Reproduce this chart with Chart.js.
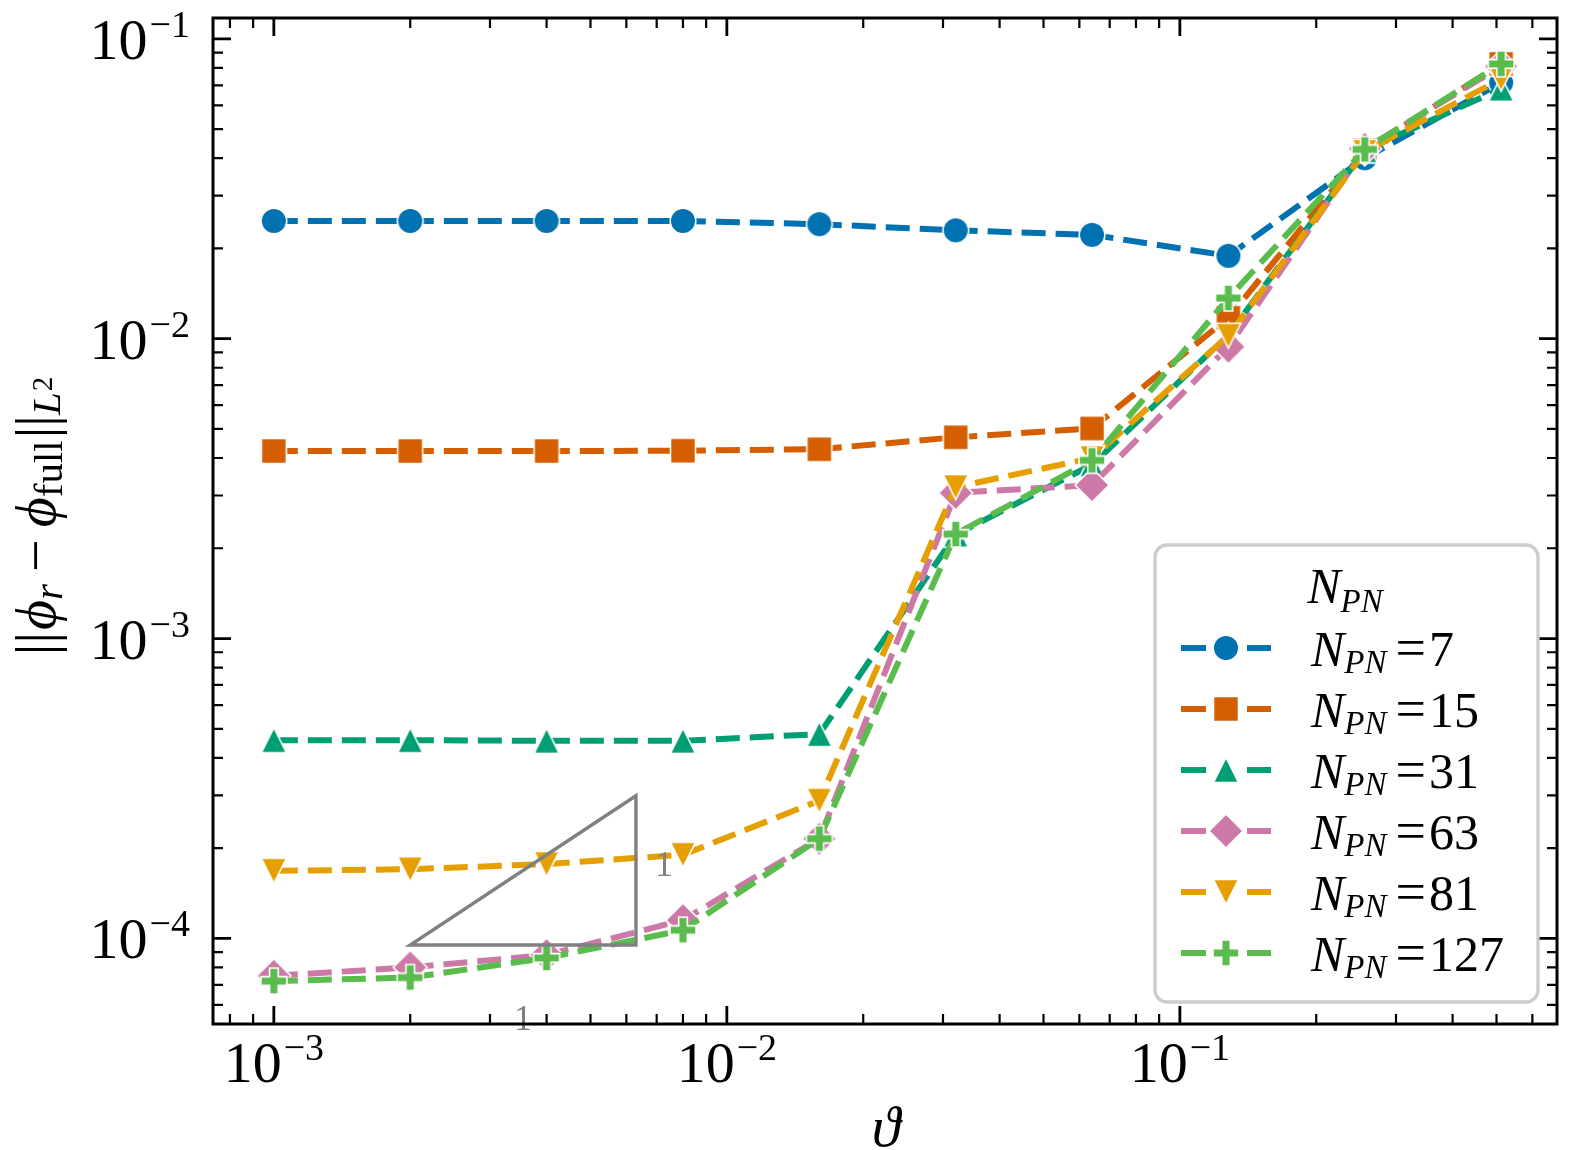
<!DOCTYPE html>
<html>
<head>
<meta charset="utf-8">
<title>L2 error vs theta</title>
<script src="https://cdn.jsdelivr.net/npm/chart.js@4.4.1/dist/chart.umd.min.js"></script>
<style>
  html, body { margin: 0; padding: 0; background: #fff; }
  #wrap { width: 1575px; height: 1150px; }
</style>
</head>
<body>
<div id="wrap"><canvas id="errChart" width="1575" height="1150"></canvas></div>
<script>
// values (log-log)
const thetas = [0.001, 0.002, 0.004, 0.008, 0.016, 0.032, 0.064, 0.128, 0.256, 0.512];
const err7   = [0.0247, 0.0247, 0.0247, 0.0247, 0.0241, 0.0230, 0.0222, 0.0189, 0.0400, 0.0715];
const err15  = [0.00422, 0.00422, 0.00422, 0.00423, 0.00428, 0.00469, 0.00502, 0.01175, 0.0425, 0.0825];
const err31  = [0.000458, 0.000458, 0.000456, 0.000456, 0.00048, 0.00222, 0.0038, 0.0103, 0.0425, 0.0682];
const err63  = [7.5e-5, 8.0e-5, 8.8e-5, 1.15e-4, 2.15e-4, 0.00306, 0.00325, 0.0094, 0.0430, 0.081];
const err81  = [1.68e-4, 1.70e-4, 1.77e-4, 1.9e-4, 2.88e-4, 0.0032, 0.0040, 0.01023, 0.0420, 0.0736];
const err127 = [7.2e-5, 7.4e-5, 8.6e-5, 1.065e-4, 2.15e-4, 0.00223, 0.00393, 0.01367, 0.0428, 0.0825];

const seriesN = [7, 15, 31, 63, 81, 127];
const seriesErr = [err7, err15, err31, err63, err81, err127];
const seriesColors = ['#0072B2', '#D55E00', '#009E73', '#CC79A7', '#E69F00', '#5ABC4C'];
const seriesMarkers = ['circle', 'square', 'triUp', 'diamond', 'triDown', 'plus'];

const xTickExps = [-3, -2, -1];
const yTickExps = [-4, -3, -2, -1];
const xRange = [7.34e-4, 0.68];
const yRange = [5.18e-5, 0.1174];

// slope-1 reference triangle
const slopeX = [0.002, 0.0063, 0.0063];
const slopeY = [9.5e-5, 9.5e-5, 2.99e-4];

const SERIF = "'Liberation Serif', 'Times New Roman', 'DejaVu Serif', serif";
const f = (size, it) => (it ? 'italic ' : '') + size + 'px ' + SERIF;

function makeMarker(kind, color) {
    const s = 44;
    const c = document.createElement('canvas');
    c.width = s; c.height = s;
    const g = c.getContext('2d');
    g.translate(s / 2, s / 2);
    g.beginPath();
    if (kind === 'circle') {
        g.arc(0, 0, 12.8, 0, Math.PI * 2);
    } else if (kind === 'square') {
        g.rect(-12.5, -12.5, 25, 25);
    } else if (kind === 'triUp') {
        g.moveTo(0, -12.5); g.lineTo(12.5, 12.5); g.lineTo(-12.5, 12.5); g.closePath();
    } else if (kind === 'triDown') {
        g.moveTo(0, 12.5); g.lineTo(12.5, -12.5); g.lineTo(-12.5, -12.5); g.closePath();
    } else if (kind === 'diamond') {
        g.moveTo(0, -17); g.lineTo(17, 0); g.lineTo(0, 17); g.lineTo(-17, 0); g.closePath();
    } else if (kind === 'plus') {
        const a = 13, b = 13 / 3;
        g.moveTo(-b, -a); g.lineTo(b, -a); g.lineTo(b, -b); g.lineTo(a, -b); g.lineTo(a, b);
        g.lineTo(b, b); g.lineTo(b, a); g.lineTo(-b, a); g.lineTo(-b, b); g.lineTo(-a, b);
        g.lineTo(-a, -b); g.lineTo(-b, -b); g.closePath();
    }
    g.fillStyle = color;
    g.fill();
    g.lineWidth = 1.6;
    g.strokeStyle = '#ffffff';
    g.stroke();
    return c;
}

const markerImgs = seriesMarkers.map((m, i) => makeMarker(m, seriesColors[i]));

function richWidth(ctx, parts) {
    let w = 0;
    parts.forEach(p => { ctx.font = p.font; w += ctx.measureText(p.t).width + (p.pre || 0) + (p.post || 0); });
    return w;
}

function drawRich(ctx, parts, x, y, align) {
    const w = richWidth(ctx, parts);
    let cx = align === 'center' ? x - w / 2 : align === 'right' ? x - w : x;
    ctx.textAlign = 'left';
    ctx.textBaseline = 'alphabetic';
    parts.forEach(p => {
        ctx.font = p.font;
        cx += p.pre || 0;
        ctx.fillText(p.t, cx, y + (p.dy || 0));
        cx += ctx.measureText(p.t).width + (p.post || 0);
    });
}

function drawLogTicks(ctx, scale, area, horizontal) {
    const lo = Math.floor(Math.log10(scale.min)), hi = Math.ceil(Math.log10(scale.max));
    ctx.strokeStyle = '#000';
    for (let e = lo; e <= hi; e++) {
        for (let m = 1; m <= 9; m++) {
            const v = m * Math.pow(10, e);
            if (v < scale.min || v > scale.max) continue;
            const p = scale.getPixelForValue(v);
            const len = m === 1 ? 18 : 10;
            ctx.lineWidth = m === 1 ? 2.8 : 2.2;
            ctx.beginPath();
            if (horizontal) {
                ctx.moveTo(p, area.bottom); ctx.lineTo(p, area.bottom - len);
                ctx.moveTo(p, area.top); ctx.lineTo(p, area.top + len);
            } else {
                ctx.moveTo(area.left, p); ctx.lineTo(area.left + len, p);
                ctx.moveTo(area.right, p); ctx.lineTo(area.right - len, p);
            }
            ctx.stroke();
        }
    }
}

const slopePlugin = {
    id: 'slopeTriangle',
    afterDatasetsDraw(chart) {
        const ctx = chart.ctx, xs = chart.scales.x, ys = chart.scales.y;
        const pts = slopeX.map((v, i) => [xs.getPixelForValue(v), ys.getPixelForValue(slopeY[i])]);
        ctx.save();
        ctx.strokeStyle = '#808080';
        ctx.lineWidth = 3.4;
        ctx.lineJoin = 'miter';
        ctx.beginPath();
        ctx.moveTo(pts[0][0], pts[0][1]);
        ctx.lineTo(pts[1][0], pts[1][1]);
        ctx.lineTo(pts[2][0], pts[2][1]);
        ctx.closePath();
        ctx.stroke();
        ctx.fillStyle = '#808080';
        ctx.font = f(36);
        ctx.textAlign = 'center';
        ctx.textBaseline = 'middle';
        ctx.fillText('1', pts[1][0] + 28, (pts[1][1] + pts[2][1]) / 2 - 4);
        ctx.fillText('1', (pts[0][0] + pts[1][0]) / 2, pts[0][1] + 76);
        ctx.restore();
    }
};

const framePlugin = {
    id: 'frameAndLabels',
    afterDraw(chart) {
        const ctx = chart.ctx, a = chart.chartArea, xs = chart.scales.x, ys = chart.scales.y;
        ctx.save();
        // spines
        ctx.strokeStyle = '#000';
        ctx.lineWidth = 3;
        ctx.strokeRect(a.left, a.top, a.right - a.left, a.bottom - a.top);
        drawLogTicks(ctx, xs, a, true);
        drawLogTicks(ctx, ys, a, false);

        // tick labels
        ctx.fillStyle = '#000';
        xTickExps.forEach(e => {
            const p = xs.getPixelForValue(Math.pow(10, e));
            drawRich(ctx, [
                { t: '10', font: f(58) },
                { t: '\u2212' + Math.abs(e), font: f(38), dy: -22, pre: 2 }
            ], p, 1082, 'center');
        });
        yTickExps.forEach(e => {
            const p = ys.getPixelForValue(Math.pow(10, e));
            drawRich(ctx, [
                { t: '10', font: f(58) },
                { t: '\u2212' + Math.abs(e), font: f(38), dy: -22, pre: 2 }
            ], 190, p + 20, 'right');
        });

        // axis titles
        ctx.font = f(58, true);
        ctx.textAlign = 'center';
        ctx.textBaseline = 'alphabetic';
        ctx.fillText('\u03D1', 886, 1146);

        ctx.save();
        ctx.translate(55, 516);
        ctx.rotate(-Math.PI / 2);
        drawRich(ctx, [
            { t: '||', font: f(58) },
            { t: '\u03D5', font: f(58, true), pre: 2 },
            { t: 'r', font: f(41, true), dy: 7 },
            { t: '\u2212', font: f(58), pre: 12, post: 12 },
            { t: '\u03D5', font: f(58, true) },
            { t: 'full', font: f(41), dy: 7 },
            { t: '||', font: f(58), pre: 2 },
            { t: 'L', font: f(41, true), dy: 5 },
            { t: '2', font: f(29), dy: -3, pre: 1 }
        ], 0, 0, 'center');
        ctx.restore();

        // legend
        const lx = 1155, ly = 545, lw = 383, lh = 457, r = 12;
        ctx.beginPath();
        ctx.moveTo(lx + r, ly);
        ctx.arcTo(lx + lw, ly, lx + lw, ly + lh, r);
        ctx.arcTo(lx + lw, ly + lh, lx, ly + lh, r);
        ctx.arcTo(lx, ly + lh, lx, ly, r);
        ctx.arcTo(lx, ly, lx + lw, ly, r);
        ctx.closePath();
        ctx.fillStyle = 'rgba(255,255,255,0.8)';
        ctx.fill();
        ctx.strokeStyle = '#cccccc';
        ctx.lineWidth = 3.3;
        ctx.stroke();

        ctx.fillStyle = '#000';
        drawRich(ctx, [
            { t: 'N', font: f(50, true) },
            { t: 'PN', font: f(33, true), dy: 9 }
        ], 1345, 603, 'center');

        seriesN.forEach((n, i) => {
            const y = 648 + i * 61;
            ctx.strokeStyle = seriesColors[i];
            ctx.lineWidth = 6;
            ctx.lineCap = 'butt';
            ctx.beginPath();
            ctx.moveTo(1181, y); ctx.lineTo(1206, y);
            ctx.moveTo(1247, y); ctx.lineTo(1271, y);
            ctx.stroke();
            const img = markerImgs[i];
            ctx.drawImage(img, 1226 - img.width / 2, y - img.height / 2);
            ctx.fillStyle = '#000';
            drawRich(ctx, [
                { t: 'N', font: f(50, true) },
                { t: 'PN', font: f(33, true), dy: 7 },
                { t: '=', font: f(54), pre: 9, post: 3 },
                { t: String(n), font: f(50) }
            ], 1311, y + 18, 'left');
        });
        ctx.restore();
    }
};

const datasets = seriesN.map((n, i) => ({
    label: 'N_PN = ' + n,
    data: thetas.map((t, k) => ({ x: t, y: seriesErr[i][k] })),
    borderColor: seriesColors[i],
    backgroundColor: seriesColors[i],
    borderWidth: 6,
    borderDash: [24, 10],
    borderCapStyle: 'butt',
    pointStyle: markerImgs[i],
    pointRadius: 12,
    tension: 0,
    fill: false,
    order: seriesN.length - i
}));

new Chart(document.getElementById('errChart'), {
    type: 'line',
    data: { datasets },
    options: {
        responsive: false,
        devicePixelRatio: 1,
        animation: false,
        events: [],
        layout: { padding: { left: 213, top: 14, right: 18, bottom: 126 } },
        scales: {
            x: { type: 'logarithmic', min: xRange[0], max: xRange[1], display: false },
            y: { type: 'logarithmic', min: yRange[0], max: yRange[1], display: false }
        },
        plugins: { legend: { display: false }, tooltip: { enabled: false } }
    },
    plugins: [slopePlugin, framePlugin]
});
</script>
</body>
</html>
